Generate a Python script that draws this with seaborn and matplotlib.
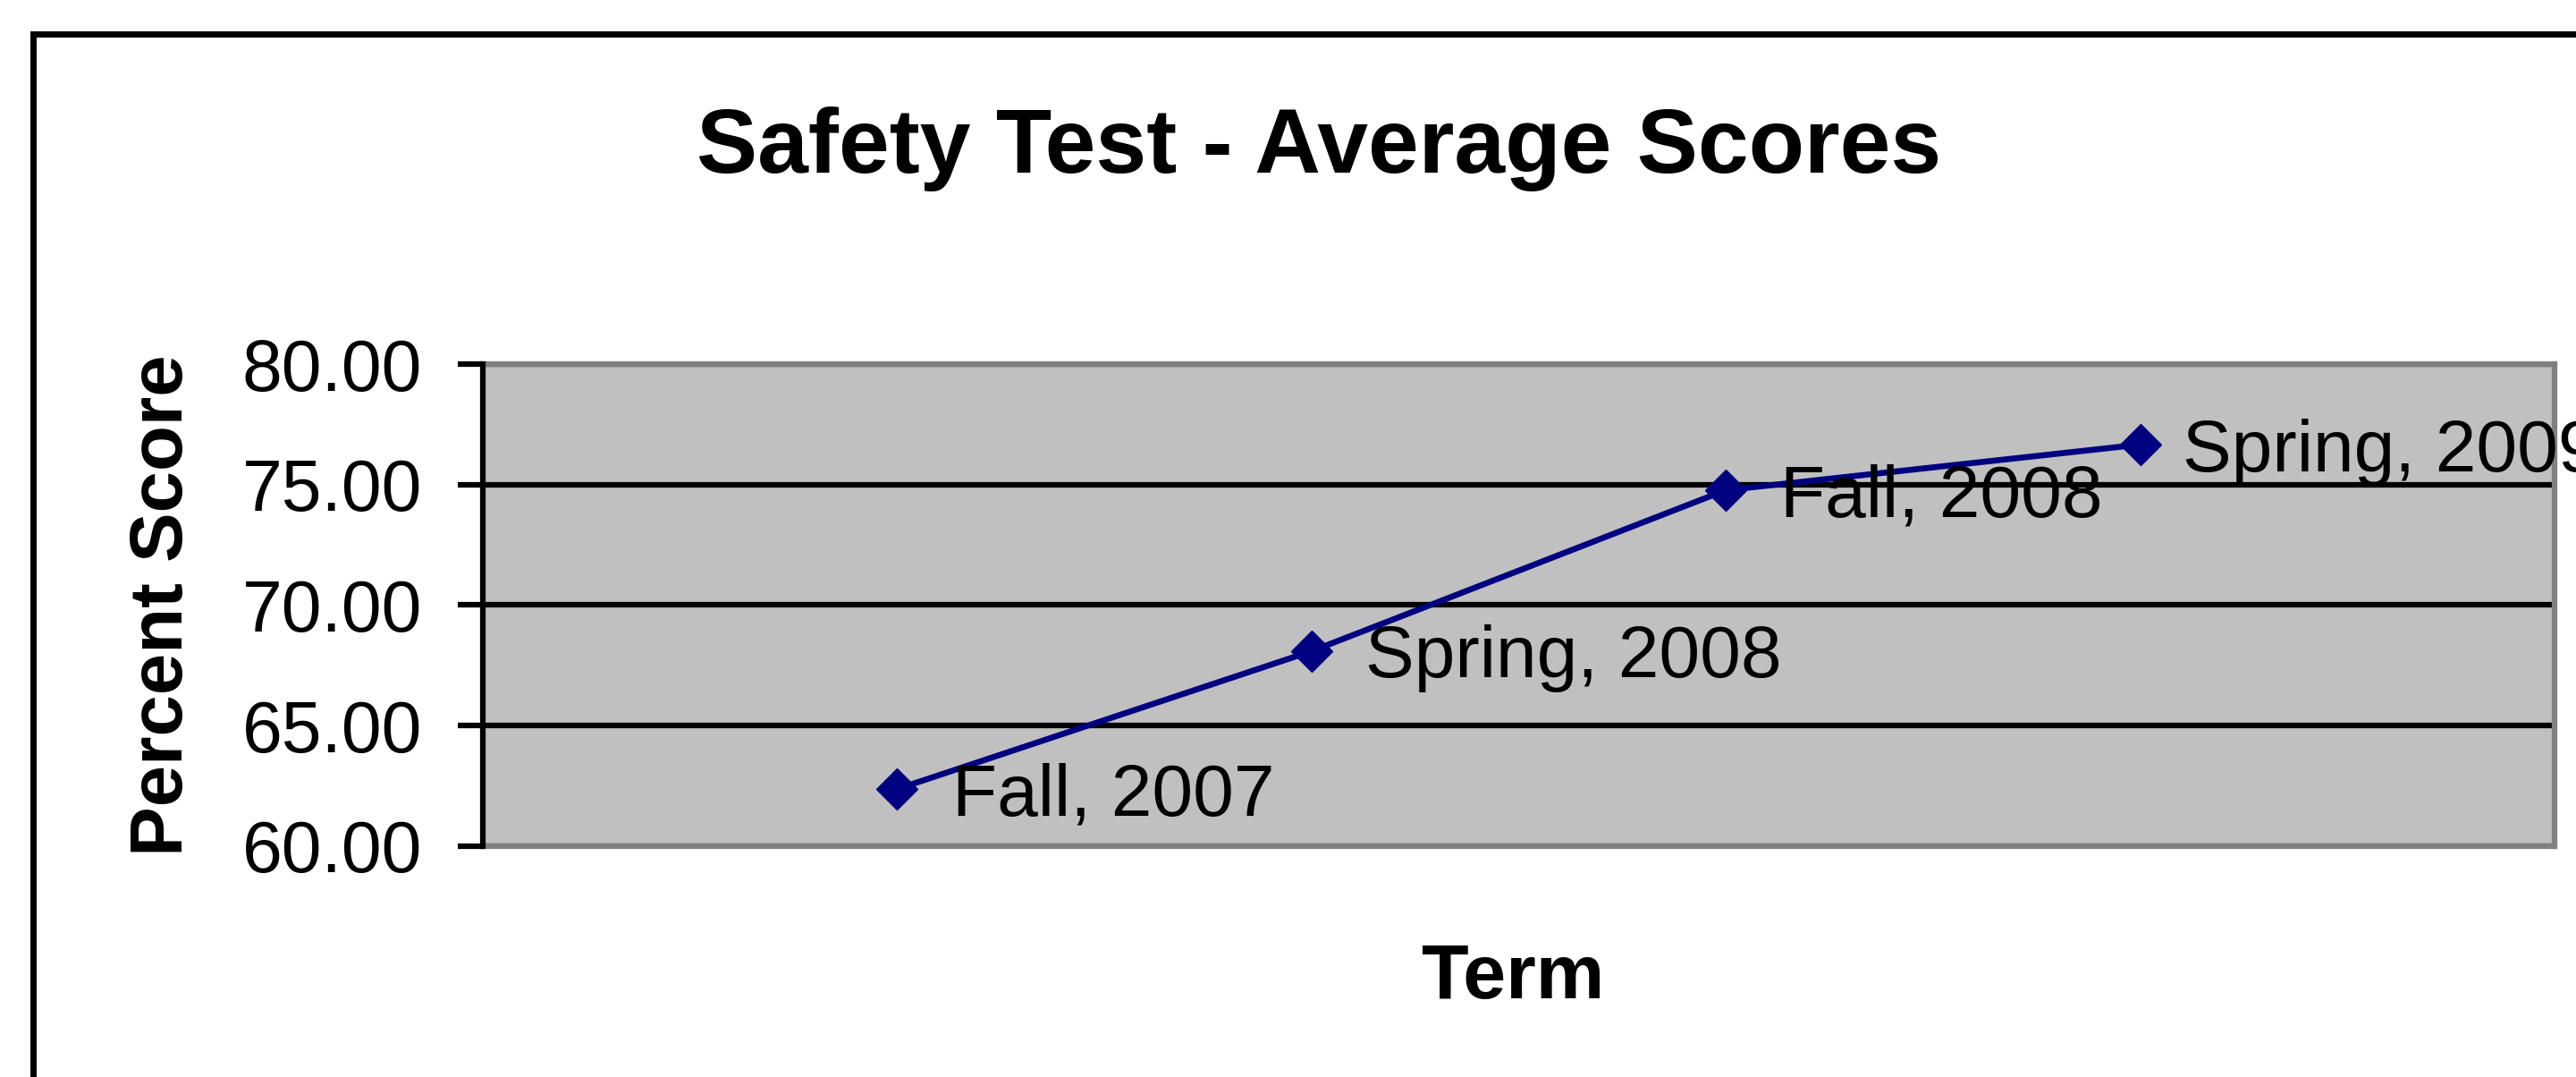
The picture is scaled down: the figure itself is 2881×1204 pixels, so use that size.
import matplotlib
matplotlib.use("Agg")
import matplotlib.pyplot as plt
import seaborn as sns
import numpy as np
import pandas as pd
from matplotlib.patches import Rectangle

# ---- data ----
terms = ["Fall, 2007", "Spring, 2008", "Fall, 2008", "Spring, 2009"]
scores = [62.37, 68.09, 74.77, 76.66]
y_ticks = [60, 65, 70, 75, 80]
title = "Safety Test - Average Scores"
x_label = "Term"
y_label = "Percent Score"

# label offsets (points, style only)
label_dx = [44, 43, 44, 34]

sns.set_theme(style="white")
plt.rcParams['font.family'] = ['Liberation Sans', 'DejaVu Sans']

W, H = 2881, 1204
fig = plt.figure(figsize=(W / 100, H / 100), dpi=100)
fig.patch.set_facecolor("white")

# outer chart border (extends beyond right/bottom edges)
fig.patches.append(Rectangle((37 / W, -0.5), 2.0, 0.5 + (H - 38) / H,
                             transform=fig.transFigure, fill=False,
                             edgecolor="black", linewidth=5, zorder=0))

ax = fig.add_axes([540 / W, (H - 946) / H, (2857 - 540) / W, (946 - 407) / H])

df = pd.DataFrame({"pos": np.arange(len(terms)), "score": scores, "term": terms})
sns.lineplot(data=df, x="pos", y="score", ax=ax, color="#000080", linewidth=4.8,
             marker="D", markersize=23, markeredgecolor="#000080",
             markeredgewidth=1, markerfacecolor="#000080", zorder=3)

ax.set_facecolor("#C0C0C0")
ax.set_xlim(-1, len(terms))
ax.set_ylim(y_ticks[0], y_ticks[-1])
ax.set_yticks(y_ticks)
ax.set_yticklabels([f"{v:.2f}" for v in y_ticks])
ax.set_xticks([])
ax.yaxis.grid(True, color="black", linewidth=4.5)
ax.xaxis.grid(False)
ax.set_axisbelow(True)

for side in ["top", "right", "bottom"]:
    ax.spines[side].set_color("#808080")
    ax.spines[side].set_linewidth(4.5)
ax.spines["left"].set_color("black")
ax.spines["left"].set_linewidth(4.5)
ax.spines["left"].set_zorder(4)

ax.tick_params(axis="y", direction="out", length=20, width=4.5, color="black",
               pad=29, labelsize=58, left=True, labelcolor="black")

for i, (t, s) in enumerate(zip(terms, scores)):
    ax.annotate(t, (i, s), xytext=(label_dx[i], 0), textcoords="offset points",
                ha="left", va="center_baseline", fontsize=59, color="black",
                annotation_clip=False, zorder=5)

ax.set_ylabel(y_label, fontsize=60, fontweight="bold", color="black",
              va="center", ha="center")
ax.yaxis.set_label_coords((182 - 540) / (2857 - 540), 0.5)
ax.set_xlabel(x_label, fontsize=62, fontweight="bold", color="black",
              va="center", ha="center")
ax.xaxis.set_label_coords((1692 - 540) / (2857 - 540), (946 - 1094) / (946 - 407))

fig.text(1475 / W, 1 - 166 / H, title, fontsize=73.5, fontweight="bold",
         ha="center", va="center", color="black")

fig.savefig("out.png", dpi=100)
